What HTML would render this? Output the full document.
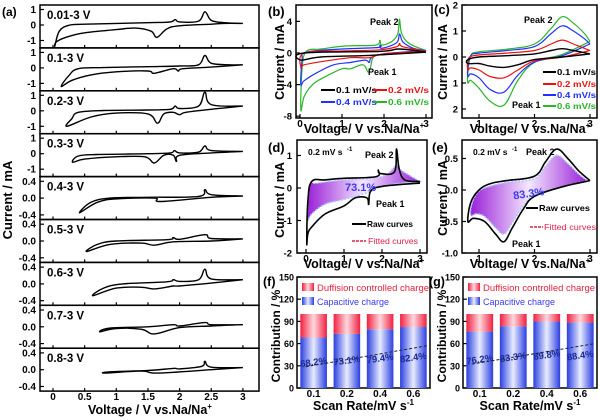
<!DOCTYPE html>
<html><head><meta charset="utf-8">
<style>
html,body{margin:0;padding:0;background:#fff;}
svg{display:block;font-family:"Liberation Sans",sans-serif;font-weight:bold;}
</style></head>
<body>
<svg id="fig" width="600" height="420" viewBox="0 0 600 420" xmlns="http://www.w3.org/2000/svg">
<defs>
<linearGradient id="blueBar" x1="0" x2="1" y1="0" y2="0">
<stop offset="0" stop-color="#2a3ee0"/><stop offset="0.5" stop-color="#e8ecff"/><stop offset="1" stop-color="#2a3ee0"/></linearGradient>
<linearGradient id="redBar" x1="0" x2="1" y1="0" y2="0">
<stop offset="0" stop-color="#f02040"/><stop offset="0.5" stop-color="#ffd8de"/><stop offset="1" stop-color="#f02040"/></linearGradient>
<linearGradient id="purp" x1="0" x2="1" y1="0" y2="0">
<stop offset="0" stop-color="#9a20d8"/><stop offset="0.5" stop-color="#f4e8ff"/><stop offset="1" stop-color="#9a20d8"/></linearGradient>
</defs>
</svg>
<script>
// ---------- DATA ----------
const aRanges = ["0.01-3 V","0.1-3 V","0.2-3 V","0.3-3 V","0.4-3 V","0.5-3 V","0.6-3 V","0.7-3 V","0.8-3 V"];
const aCurve1 = [[3,0.1],[2.7,0.1],[2.5,0.05],[2,-0.05],[1.8,-0.25],[1.64,-0.8],[1.55,-0.4],[1.3,-0.2],[1.0,-0.3],[0.5,-0.5],[0.2,-0.8],[0.05,-1.1],[0.03,-1.35],[0.1,-0.4],[0.25,-0.02],[0.5,0.05],[1.5,0.15],[1.85,0.2],[1.93,0.35],[2.0,0.2],[2.3,0.25],[2.4,0.85],[2.5,0.3],[2.7,0.15],[3,0.1]];
const aCurve2 = [[3,0.2],[2.5,0.05],[2.05,-0.05],[1.98,-0.2],[1.9,-0.05],[1.6,-0.35],[1.5,-0.2],[1.0,-0.25],[0.6,-0.45],[0.3,-0.8],[0.13,-1.2],[0.25,-0.5],[0.4,-0.05],[0.8,0.02],[1.5,0.08],[2.0,0.12],[2.3,0.2],[2.4,0.8],[2.5,0.3],[2.8,0.2],[3,0.2]];
const aCurve3 = [[3,0.3],[2.5,0.1],[2.1,-0.1],[2.0,-0.25],[1.9,-0.1],[1.75,-0.2],[1.65,-0.8],[1.5,-0.2],[1.0,-0.15],[0.6,-0.4],[0.22,-1.0],[0.3,-0.5],[0.4,-0.1],[0.8,0.02],[1.5,0.05],[1.85,0.1],[1.93,0.3],[2.0,0.15],[2.3,0.3],[2.4,1.2],[2.5,0.4],[3,0.3]];
const aCurve4 = [[3,0.15],[2.5,0.05],[2.0,-0.1],[1.95,-0.5],[1.9,-0.1],[1.75,-0.1],[1.6,-0.6],[1.45,-0.2],[1.0,-0.2],[0.5,-0.35],[0.31,-0.55],[0.4,-0.15],[0.7,-0.05],[1.5,0.0],[1.85,0.05],[1.92,0.2],[2.0,0.05],[2.3,0.1],[2.4,0.5],[2.5,0.2],[3,0.15]];
const aCurve5 = [[3,0.05],[2.5,0.02],[1.7,-0.08],[1.6,0.0],[1.0,-0.02],[0.7,-0.1],[0.42,-0.35],[0.6,-0.1],[0.9,0.0],[1.5,0.02],[2.3,0.04],[2.4,0.2],[2.5,0.08],[3,0.05]];
const aCurve6 = [[3,0.05],[2.5,0.0],[1.9,-0.02],[1.6,-0.1],[1.4,-0.05],[0.9,-0.08],[0.53,-0.25],[0.7,-0.08],[1.0,0.0],[1.8,0.03],[1.9,0.08],[2.0,0.04],[2.4,0.15],[2.5,0.06],[3,0.05]];
const aCurve7 = [[3,0.1],[2.5,0.02],[2.0,-0.05],[1.9,-0.05],[1.6,-0.12],[1.4,-0.08],[1.0,-0.1],[0.63,-0.28],[0.8,-0.1],[1.1,0.0],[1.8,0.05],[1.9,0.1],[2.0,0.06],[2.3,0.1],[2.4,0.35],[2.5,0.12],[3,0.1]];
const aCurve8 = [[3,0.05],[2.5,0.02],[2.0,-0.02],[1.6,-0.17],[1.4,-0.06],[1.0,-0.04],[0.74,-0.12],[0.9,-0.03],[1.5,0.0],[1.9,0.05],[2.0,0.02],[2.4,0.1],[2.5,0.05],[3,0.05]];
const aCurve9 = [[3,0.05],[2.5,0.0],[1.65,-0.08],[1.4,-0.03],[0.83,-0.08],[0.9,-0.05],[1.5,-0.02],[1.9,0.03],[2.0,0.02],[2.35,0.08],[2.4,0.2],[2.5,0.06],[3,0.05]];
const aCurves = [aCurve1,aCurve2,aCurve3,aCurve4,aCurve5,aCurve6,aCurve7,aCurve8,aCurve9];

const bGreen = [[3,0.3],[2.5,0],[2,-0.2],[1.75,-0.5],[1.68,-1.8],[1.62,-2.4],[1.5,-1.5],[1.2,-2.0],[1.0,-2.0],[0.6,-3.0],[0.3,-4.0],[0.1,-5.5],[0.02,-7.2],[0.05,-2],[0.15,0.2],[0.5,0.5],[1.1,0.9],[1.8,1.0],[1.9,1.6],[1.95,1.0],[2.2,1.5],[2.33,2.5],[2.37,4.3],[2.42,2.5],[2.6,1.2],[3,0.3]];
const bBlue = [[3,0.3],[2,-0.1],[1.7,-0.6],[1.65,-1.2],[1.55,-0.9],[1.2,-1.2],[0.8,-1.5],[0.4,-2.5],[0.1,-3.5],[0.02,-4.0],[0.05,-1],[0.15,0.1],[1,0.5],[1.85,0.7],[1.9,1.0],[1.95,0.6],[2.3,1.3],[2.37,2.4],[2.45,1.4],[2.7,0.6],[3,0.3]];
const bRed = [[3,0.2],[2,-0.1],[1.65,-0.6],[1.2,-0.6],[0.5,-1.1],[0.1,-1.5],[0.02,-1.8],[0.1,0],[1,0.25],[1.9,0.4],[2.3,0.8],[2.37,1.2],[2.45,0.8],[3,0.2]];
const bBlack = [[3,0.1],[1.65,-0.3],[0.5,-0.5],[0.02,-0.9],[0.1,0],[1.9,0.2],[2.37,0.5],[3,0.1]];

const cGreen = [[3,0.6],[2.5,0.1],[2,-0.2],[1.7,-0.9],[1.45,-1.85],[1.2,-1.7],[1.0,-1.2],[0.85,-0.9],[0.8,-1.0],[0.8,-0.6],[0.85,0.05],[1.0,0.2],[1.5,0.3],[2.0,0.5],[2.3,1.1],[2.5,1.55],[2.7,1.3],[2.9,0.9],[3,0.6]];
const cBlue = [[3,0.5],[2.5,0.05],[2,-0.2],[1.7,-0.7],[1.45,-1.35],[1.2,-1.25],[1.0,-0.8],[0.85,-0.65],[0.8,-0.75],[0.8,-0.4],[0.85,0.05],[1.0,0.15],[1.5,0.25],[2.0,0.4],[2.3,0.9],[2.5,1.2],[2.7,1.0],[2.9,0.7],[3,0.5]];
const cRed = [[3,0.25],[2.5,0.0],[2,-0.15],[1.7,-0.5],[1.45,-0.8],[1.2,-0.75],[1.0,-0.5],[0.85,-0.42],[0.8,-0.5],[0.8,-0.2],[0.9,0.05],[1.5,0.15],[2.0,0.25],[2.3,0.5],[2.5,0.65],[2.7,0.5],[3,0.25]];
const cBlack = [[3,0.12],[2.5,0.0],[2,-0.1],[1.7,-0.3],[1.45,-0.4],[1.2,-0.35],[1.0,-0.25],[0.8,-0.25],[0.8,-0.1],[1.0,0.0],[1.5,0.05],[2.0,0.12],[2.3,0.25],[2.5,0.32],[2.7,0.25],[3,0.12]];

const dRaw = [[3,0.2],[2.6,0.25],[2.45,0.6],[2.38,1.2],[2.33,0.5],[1.95,0.45],[1.9,0.55],[1.85,0.35],[1,0.3],[0.5,0.25],[0.15,0.2],[0.05,-0.4],[0.02,-1.7],[0.05,-1.4],[0.15,-1.2],[0.5,-0.8],[1,-0.55],[1.3,-0.3],[1.6,-0.3],[1.65,-0.5],[1.7,-0.1],[2,0.05],[3,0.15]];
const dFit = [[3,0.2],[2.5,0.55],[2.38,0.7],[2,0.35],[1,0.25],[0.3,0.15],[0.1,0.1],[0.05,-0.5],[0.04,-1.0],[0.15,-0.8],[0.5,-0.5],[1,-0.35],[1.6,-0.15],[2,0.05],[2.5,0.15],[3,0.2]];
const eRaw = [[3,0.15],[2.8,0.3],[2.6,0.5],[2.4,0.65],[2.2,0.45],[2,0.22],[1.5,0.15],[1.2,0.1],[1.0,0.0],[0.85,-0.2],[0.8,-0.5],[0.9,-0.45],[1.1,-0.5],[1.3,-0.7],[1.45,-0.82],[1.6,-0.6],[1.8,-0.3],[2,-0.1],[2.5,0.05],[3,0.15]];
const eFit = [[2.95,0.15],[2.8,0.25],[2.6,0.42],[2.4,0.55],[2.2,0.38],[2,0.18],[1.5,0.12],[1.2,0.06],[1.0,-0.02],[0.88,-0.2],[0.85,-0.4],[0.95,-0.38],[1.1,-0.42],[1.3,-0.6],[1.45,-0.7],[1.6,-0.52],[1.8,-0.25],[2,-0.08],[2.5,0.05],[2.95,0.15]];

const rates = ["0.1","0.2","0.4","0.6"];
const fCap = [68.2,73.1,79.4,82.4];
const gCap = [76.2,83.3,89.8,88.4];
const yTicksBar = [0,30,60,90,120,150];

// ---------- HELPERS ----------
const svg = document.getElementById('fig');
const NS = 'http://www.w3.org/2000/svg';
function mk(tag, attrs, parent){const e=document.createElementNS(NS,tag);for(const k in attrs)e.setAttribute(k,attrs[k]);(parent||svg).appendChild(e);return e;}
function txt(x,y,s,size,opts){const t=mk('text',Object.assign({x:x,y:y,'font-size':size},opts||{}));t.textContent=s;return t;}
function poly(pts,sx,sy,close){
  const P=pts.map(p=>[sx(p[0]),sy(p[1])]);
  let d='M'+P[0][0].toFixed(1)+' '+P[0][1].toFixed(1);
  for(let i=0;i<P.length-1;i++){
    const p0=P[Math.max(0,i-1)],p1=P[i],p2=P[i+1],p3=P[Math.min(P.length-1,i+2)];
    const t=0.18;
    const c1=[p1[0]+(p2[0]-p0[0])*t,p1[1]+(p2[1]-p0[1])*t];
    const c2=[p2[0]-(p3[0]-p1[0])*t,p2[1]-(p3[1]-p1[1])*t];
    d+=' C'+c1[0].toFixed(1)+' '+c1[1].toFixed(1)+' '+c2[0].toFixed(1)+' '+c2[1].toFixed(1)+' '+p2[0].toFixed(1)+' '+p2[1].toFixed(1);
  }
  return d+(close?' Z':'');
}
function frame(x0,y0,x1,y1,name){const r=mk('rect',{x:x0,y:y0,width:x1-x0,height:y1-y0,fill:'none',stroke:'#000','stroke-width':1.5});return r;}
function xTicks(sx,vals,yb,len,labelY,name){vals.forEach(v=>{const l=mk('line',{x1:sx(v),x2:sx(v),y1:yb,y2:yb-len,stroke:'#000','stroke-width':1.2});if(labelY){const t=txt(sx(v),labelY,String(v),10,{'text-anchor':'middle'});}});}
function yTicks(sy,vals,labels,xl,len,labelX,name,size){vals.forEach((v,i)=>{const l=mk('line',{x1:xl,x2:xl+len,y1:sy(v),y2:sy(v),stroke:'#000','stroke-width':1.2});const t=txt(labelX,sy(v)+3.5,labels[i],size||10,{'text-anchor':'end'});});}
function rotLabel(x,y,s,size,name){const t=txt(x,y,s,size,{'text-anchor':'middle',transform:'rotate(-90 '+x+' '+y+')'});return t;}
function curve(pts,sx,sy,color,w,name){const p=mk('path',{d:poly(pts,sx,sy,false),fill:'none',stroke:color,'stroke-width':w,'stroke-linejoin':'round'});return p;}
function xTitle(cx,y,name){const t=mk('text',{x:cx,y:y,'font-size':12.5,'text-anchor':'middle'});t.innerHTML='Voltage/ V vs.Na/Na<tspan dy="-5" font-size="8">+</tspan>';}

// ---------- PANEL A ----------
const ax0=40, ax1=259, aTop=5, aH=42.9;
const axX = v => 53 + 63.3*v;
txt(2,16,'(a)',12);
for(let i=0;i<9;i++){
  const top = aTop + i*aH, bot = top + aH;
  frame(ax0,top,ax1,bot,'panel-a-subplot-'+(i+1));
  const big = i<4;
  const sy = big ? (c => top + 20 - 15.5*c) : (c => top + 21.5 - 42*c);
  const tv = big ? [1,0,-1] : [0.4,0,-0.4];
  const tl = big ? ['1','0','-1'] : ['0.4','0.0','-0.4'];
  yTicks(sy,tv,tl,ax0,4,36,'panel-a-y',10);
  xTicks(axX,[0,0.5,1,1.5,2,2.5,3],bot,3,i===8?400:null,'panel-a-x');
  const lab = txt(47,top+14,aRanges[i],11.5);
  
  curve(aCurves[i],axX,sy,'#000',1.4,'cv-curve-'+(i+1));
}
rotLabel(12,200,'Current / mA',13,'panel-a-y-title');
const axt = mk('text',{x:150,y:414,'font-size':12.5,'text-anchor':'middle'});
axt.innerHTML='Voltage / V vs.Na/Na<tspan dy="-5" font-size="8">+</tspan>';



// ---------- PANEL B ----------
(function(){
  const x0=296,x1=432,y0=5,y1=118;
  const sx=v=>300+42*v, sy=c=>53-7.9*c;
  frame(x0,y0,x1,y1,'panel-b-frame');
  xTicks(sx,[0,1,2,3],y1,4,127,'panel-b-x');
  yTicks(sy,[4,0,-4,-8],['4','0','-4','-8'],x0,4,292,'panel-b-y',9.5);
  curve(bGreen,sx,sy,'#2ab52a',1.2,'series-0.6-mVs');
  curve(bBlue,sx,sy,'#2030ff',1.2,'series-0.4-mVs');
  curve(bRed,sx,sy,'#ee1010',1.2,'series-0.2-mVs');
  curve(bBlack,sx,sy,'#000',1.4,'series-0.1-mVs');
  txt(268,16,'(b)',13);
  txt(370,25,'Peak 2',9);
  txt(368,75,'Peak 1',9);
  const leg=[['0.1 mV/s','#000',321,93],['0.2 mV/s','#ee1010',373,93],['0.4 mV/s','#2030ff',321,105],['0.6 mV/s','#2ab52a',373,105]];
  leg.forEach(l=>{const ln=mk('line',{x1:l[2],x2:l[2]+14,y1:l[3]-3,y2:l[3]-3,stroke:l[1],'stroke-width':2});const t=txt(l[2]+15,l[3],l[0],8.5,{fill:l[1],textLength:41,lengthAdjust:'spacingAndGlyphs'});});
  rotLabel(284,62,'Current / mA',12.5,'panel-b-y-title');
  xTitle(364,133,'panel-b-x-title');
})();

// ---------- PANEL C ----------
(function(){
  const x0=462,x1=597,y0=5,y1=118;
  const sx=v=>479+55.5*(v-1), sy=c=>57-26*c;
  frame(x0,y0,x1,y1,'panel-c-frame');
  xTicks(sx,[1,2,3],y1,4,127,'panel-c-x');
  yTicks(sy,[2,1,0,-1,-2],['2','1','0','1','2'],x0,4,458,'panel-c-y',9.5);
  curve(cGreen,sx,sy,'#2ab52a',1.2,'series-0.6-mVs');
  curve(cBlue,sx,sy,'#2030ff',1.2,'series-0.4-mVs');
  curve(cRed,sx,sy,'#ee1010',1.2,'series-0.2-mVs');
  curve(cBlack,sx,sy,'#000',1.4,'series-0.1-mVs');
  txt(434,14,'(c)',13);
  txt(524,23,'Peak 2',9);
  txt(512,108,'Peak 1',9);
  const leg=[['0.1 mV/s','#000',75],['0.2 mV/s','#ee1010',87],['0.4 mV/s','#2030ff',98],['0.6 mV/s','#2ab52a',109]];
  leg.forEach(l=>{const ln=mk('line',{x1:543,x2:556,y1:l[2]-3,y2:l[2]-3,stroke:l[1],'stroke-width':2});const t=txt(557,l[2],l[0],8.5,{fill:l[1],textLength:39,lengthAdjust:'spacingAndGlyphs'});});
  rotLabel(447,62,'Current / mA',12.5,'panel-c-y-title');
  xTitle(530,133,'panel-c-x-title');
})();

// ---------- PANEL D ----------
(function(){
  const x0=297,x1=427,y0=140,y1=253;
  const sx=v=>306+38*v, sy=c=>188-32.5*c;
  frame(x0,y0,x1,y1,'panel-d-frame');
  xTicks(sx,[0,1,2,3],y1,4,262,'panel-d-x');
  yTicks(sy,[1,0,-1,-2],['1','0','-1','-2'],x0,4,292,'panel-d-y',9.5);
  const f=mk('path',{d:poly(dFit,sx,sy,true),fill:'url(#purp)',stroke:'#a8c8ff','stroke-width':1.5,'stroke-dasharray':'2 1.5'});
  
  curve(dRaw,sx,sy,'#000',1.6,'raw-curve');
  txt(268,152,'(d)',13);
  txt(308,155,'0.2 mV s',8.5);
  txt(347,151,'-1',6);
  txt(365,158,'Peak 2',9);
  txt(376,207,'Peak 1',9);
  txt(345,191,'73.1%',11,{fill:'#3a3aee'});
  mk('line',{x1:352,x2:366,y1:224,y2:224,stroke:'#000','stroke-width':2});
  txt(367,227,'Raw curves',8.5,{textLength:46,lengthAdjust:'spacingAndGlyphs'});
  mk('line',{x1:352,x2:366,y1:241,y2:241,stroke:'#e0204a','stroke-width':1.5,'stroke-dasharray':'3 1'});
  txt(368,244,'Fitted curves',8.5,{fill:'#e0204a',textLength:50,lengthAdjust:'spacingAndGlyphs','font-weight':'normal'});
  rotLabel(284,200,'Current / mA',12.5,'panel-d-y-title');
  xTitle(364,268,'panel-d-x-title');
})();

// ---------- PANEL E ----------
(function(){
  const x0=462,x1=597,y0=140,y1=253;
  const sx=v=>479+55.5*(v-1), sy=c=>190-63*c;
  frame(x0,y0,x1,y1,'panel-e-frame');
  xTicks(sx,[1,2,3],y1,4,262,'panel-e-x');
  yTicks(sy,[0.5,0,-0.5,-1],['0.5','0.0','-0.5','-1.0'],x0,4,458,'panel-e-y',9.5);
  const f=mk('path',{d:poly(eFit,sx,sy,true),fill:'url(#purp)',stroke:'#a8c8ff','stroke-width':1.5,'stroke-dasharray':'2 1.5'});
  
  curve(eRaw,sx,sy,'#000',1.6,'raw-curve');
  txt(432,152,'(e)',13);
  txt(473,155,'0.2 mV s',8.5);
  txt(512,151,'-1',6);
  txt(526,155,'Peak 2',9);
  txt(512,247,'Peak 1',9);
  txt(513,197,'83.3%',11,{fill:'#3a3aee',transform:'rotate(-8 530 193)'});
  mk('line',{x1:526,x2:538,y1:208,y2:208,stroke:'#000','stroke-width':2});
  txt(539,211,'Raw curves',8.5,{textLength:51,lengthAdjust:'spacingAndGlyphs'});
  mk('line',{x1:530,x2:543,y1:227,y2:227,stroke:'#e0204a','stroke-width':1.5,'stroke-dasharray':'3 1'});
  txt(544,230,'Fitted curves',8.5,{fill:'#e0204a',textLength:52,lengthAdjust:'spacingAndGlyphs','font-weight':'normal'});
  rotLabel(447,198,'Current / mA',12.5,'panel-e-y-title');
  xTitle(530,268,'panel-e-x-title');
})();

// ---------- PANELS F, G ----------
function barPanel(x0,x1,cap,letter,lx){
  const y0=277,y1=388;
  const sy=v=>y1-(y1-y0)*v/150;
  const n=rates.length, step=(x1-x0)/n, bw=step*0.8;
  const cx=i=>x0+step*(i+0.5);
  frame(x0,y0,x1,y1,'panel-'+letter+'-frame');
  yTicks(sy,yTicksBar,yTicksBar.map(String),x0,4,x0-3,'panel-'+letter+'-y',9);
  rates.forEach((r,i)=>{
    const rr=mk('rect',{x:cx(i)-bw/2,y:sy(100),width:bw,height:sy(cap[i])-sy(100),fill:'url(#redBar)'});
    
    const br=mk('rect',{x:cx(i)-bw/2,y:sy(cap[i]),width:bw,height:y1-sy(cap[i]),fill:'url(#blueBar)'});
    
    const t=txt(cx(i),sy(cap[i]*0.45+4)+3,cap[i]+'%',9.5,{'text-anchor':'middle',fill:'#1a2a99',transform:'rotate(-8 '+cx(i)+' '+sy(cap[i]*0.45+4)+')'});
    
    const xl=txt(cx(i),397,r,10,{'text-anchor':'middle'});
    
  });
  const tr=mk('line',{x1:cx(0)-8,y1:sy(cap[0]*0.45-2),x2:x1-3,y2:sy(cap[n-1]*0.45+20),stroke:'#223',"stroke-width":1,'stroke-dasharray':'3 2'});
  
  const l1=mk('rect',{x:x0+5,y:283,width:12,height:8,fill:'url(#redBar)'});
  txt(x0+20,291,'Duffision controlled charge',9,{fill:'#e8203a','font-weight':'normal',textLength:112,lengthAdjust:'spacingAndGlyphs'});
  const l2=mk('rect',{x:x0+5,y:297,width:12,height:8,fill:'url(#blueBar)'});
  txt(x0+20,305,'Capacitive charge',9,{fill:'#3a3aee','font-weight':'normal',textLength:72,lengthAdjust:'spacingAndGlyphs'});
  txt(lx,286,'('+letter+')',12.5);
  const xt=mk('text',{x:(x0+x1)/2,y:410,'font-size':12.5,'text-anchor':'middle'});
  xt.innerHTML='Scan Rate/mV s<tspan dy="-5" font-size="8">-1</tspan>';
  
}
barPanel(297,430,fCap,'f',263);
barPanel(463,597,gCap,'g',429);
rotLabel(280,336,'Contribution / %',12,'panel-f-y-title');
rotLabel(446,336,'Contribution / %',12,'panel-g-y-title');
</script>
</body></html>
